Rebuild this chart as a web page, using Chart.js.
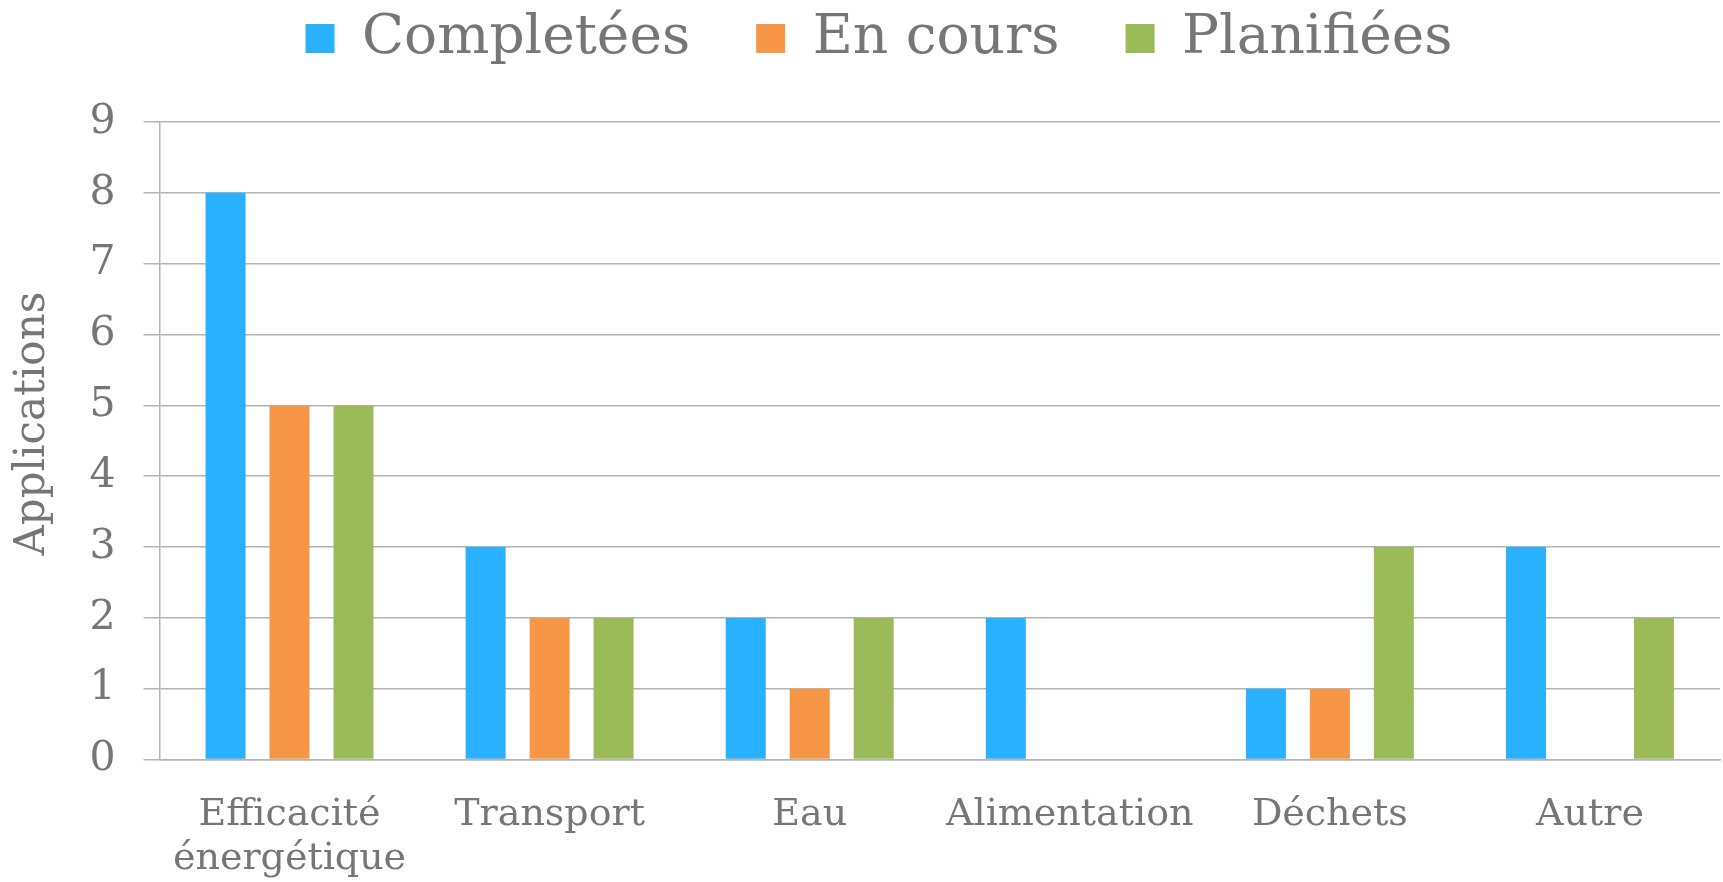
<!DOCTYPE html>
<html>
<head>
<meta charset="utf-8">
<script src="https://cdn.jsdelivr.net/npm/chart.js@4/dist/chart.umd.min.js"></script>
<style>
  html, body { margin: 0; padding: 0; background: #fff; }
  #wrap { width: 1723px; height: 882px; }
</style>
</head>
<body>
<div id="wrap"><canvas id="appChart"></canvas></div>
<script>
// Categories and series
const categories = [
  ["Efficacité", "énergétique"],
  "Transport",
  "Eau",
  "Alimentation",
  "Déchets",
  "Autre",
];
const completees = [8, 3, 2, 2, 1, 3];
const enCours = [5, 2, 1, 0, 1, 0];
const planifiees = [5, 2, 2, 0, 3, 2];
const yTicks = [0, 1, 2, 3, 4, 5, 6, 7, 8, 9];

const textColor = "#767676";
const gridColor = "#b4b4b4";
const serif = "'DejaVu Serif', 'Liberation Serif', serif";

// nudge the legend a bit to the right, like the original
const legendShift = {
  id: "legendShift",
  afterLayout(chart) {
    if (chart.legend) {
      chart.legend.left += 19;
      chart.legend.right += 19;
    }
  },
};

const ctx = document.getElementById("appChart");
new Chart(ctx, {
  type: "bar",
  data: {
    labels: categories,
    datasets: [
      { label: "Completées", data: completees, backgroundColor: "#29b1ff" },
      { label: "En cours", data: enCours, backgroundColor: "#f79646" },
      { label: "Planifiées", data: planifiees, backgroundColor: "#9bbb59" },
    ],
  },
  options: {
    responsive: true,
    maintainAspectRatio: false,
    animation: false,
    categoryPercentage: 0.738,
    barPercentage: 0.625,
    layout: {
      padding: { top: -55, right: 3, bottom: -33, left: 0 },
    },
    plugins: {
      legend: {
        position: "top",
        labels: {
          color: textColor,
          boxWidth: 29,
          boxHeight: 29,
          padding: 66,
          font: { family: serif, size: 55 },
        },
      },
      title: {
        display: true,
        text: "",
        weight: 10,
        font: { size: 1, lineHeight: 1 },
        padding: { top: 45, bottom: 0 },
      },
      tooltip: { enabled: false },
    },
    scales: {
      x: {
        grid: { display: false, drawTicks: false },
        border: { display: true, color: gridColor, width: 1.5 },
        ticks: {
          color: textColor,
          padding: 34,
          autoSkip: false,
          maxRotation: 0,
          font: { family: serif, size: 38, lineHeight: 1.15 },
        },
      },
      y: {
        min: 0,
        max: 9,
        afterBuildTicks: (axis) => {
          axis.ticks = yTicks.map((v) => ({ value: v }));
        },
        grid: { color: gridColor, lineWidth: 1.5, tickLength: 16 },
        border: { display: true, color: gridColor, width: 1.5 },
        ticks: {
          color: textColor,
          padding: 28,
          font: { family: serif, size: 41 },
        },
        title: {
          display: true,
          // leading spaces push the title up a little, as in the original
          text: "\u2002 Applications",
          color: textColor,
          padding: { top: 8, bottom: 3 },
          font: { family: serif, size: 42 },
        },
      },
    },
  },
  plugins: [legendShift],
});
</script>
</body>
</html>
